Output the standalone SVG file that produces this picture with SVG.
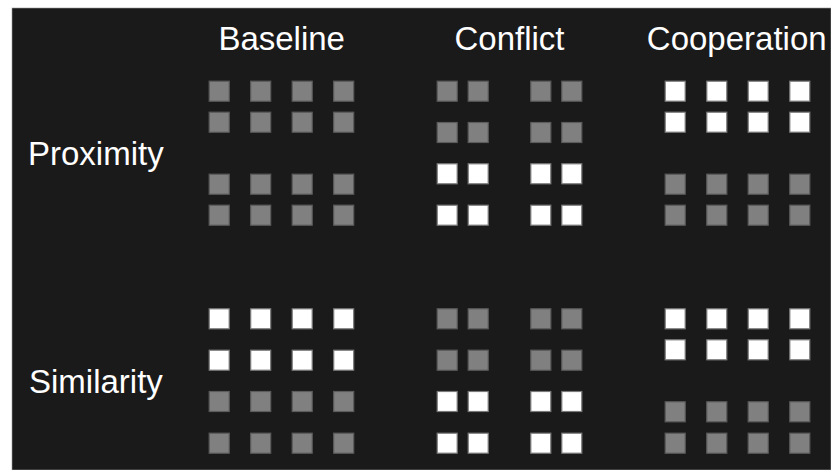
<svg xmlns="http://www.w3.org/2000/svg" width="831" height="470" viewBox="0 0 831 470">
<style>
text{font-family:"Liberation Sans",Arial,sans-serif;font-size:33px;fill:#ffffff}
.t{text-anchor:middle}
.g{fill:#808080;stroke:#5c5c5c;stroke-width:1.2}
.w{fill:#ffffff;stroke:#7a7a7a;stroke-width:1.2}
</style>
<defs>
<rect id="sq" width="20" height="20"/>
</defs>
<rect x="0" y="0" width="831" height="470" fill="#ffffff"/>
<rect x="12" y="8" width="819" height="462" fill="#1a1a1a"/>
<rect x="12" y="8" width="819" height="462" fill="none" stroke="#9a9a9a" stroke-width="0.6"/>
<g id="headers">
<text class="t" x="281.7" y="49.5">Baseline</text>
<text class="t" x="509.5" y="49.5">Conflict</text>
<text class="t" x="736.7" y="49.5">Cooperation</text>
<text x="28" y="164.5">Proximity</text>
<text x="29" y="392.5">Similarity</text>
</g>
<g id="baseline-proximity">
<use href="#sq" class="g" x="209.2" y="81.2"/><use href="#sq" class="g" x="250.7" y="81.2"/><use href="#sq" class="g" x="292.2" y="81.2"/><use href="#sq" class="g" x="333.7" y="81.2"/>
<use href="#sq" class="g" x="209.2" y="112.2"/><use href="#sq" class="g" x="250.7" y="112.2"/><use href="#sq" class="g" x="292.2" y="112.2"/><use href="#sq" class="g" x="333.7" y="112.2"/>
<use href="#sq" class="g" x="209.2" y="174.2"/><use href="#sq" class="g" x="250.7" y="174.2"/><use href="#sq" class="g" x="292.2" y="174.2"/><use href="#sq" class="g" x="333.7" y="174.2"/>
<use href="#sq" class="g" x="209.2" y="205.2"/><use href="#sq" class="g" x="250.7" y="205.2"/><use href="#sq" class="g" x="292.2" y="205.2"/><use href="#sq" class="g" x="333.7" y="205.2"/>
</g>
<g id="conflict-proximity">
<use href="#sq" class="g" x="437.2" y="81.2"/><use href="#sq" class="g" x="468.2" y="81.2"/><use href="#sq" class="g" x="530.8" y="81.2"/><use href="#sq" class="g" x="561.8" y="81.2"/>
<use href="#sq" class="g" x="437.2" y="122.5"/><use href="#sq" class="g" x="468.2" y="122.5"/><use href="#sq" class="g" x="530.8" y="122.5"/><use href="#sq" class="g" x="561.8" y="122.5"/>
<use href="#sq" class="w" x="437.2" y="163.8"/><use href="#sq" class="w" x="468.2" y="163.8"/><use href="#sq" class="w" x="530.8" y="163.8"/><use href="#sq" class="w" x="561.8" y="163.8"/>
<use href="#sq" class="w" x="437.2" y="205.2"/><use href="#sq" class="w" x="468.2" y="205.2"/><use href="#sq" class="w" x="530.8" y="205.2"/><use href="#sq" class="w" x="561.8" y="205.2"/>
</g>
<g id="cooperation-proximity">
<use href="#sq" class="w" x="665.2" y="81.2"/><use href="#sq" class="w" x="706.8" y="81.2"/><use href="#sq" class="w" x="748.2" y="81.2"/><use href="#sq" class="w" x="789.8" y="81.2"/>
<use href="#sq" class="w" x="665.2" y="112.2"/><use href="#sq" class="w" x="706.8" y="112.2"/><use href="#sq" class="w" x="748.2" y="112.2"/><use href="#sq" class="w" x="789.8" y="112.2"/>
<use href="#sq" class="g" x="665.2" y="174.2"/><use href="#sq" class="g" x="706.8" y="174.2"/><use href="#sq" class="g" x="748.2" y="174.2"/><use href="#sq" class="g" x="789.8" y="174.2"/>
<use href="#sq" class="g" x="665.2" y="205.2"/><use href="#sq" class="g" x="706.8" y="205.2"/><use href="#sq" class="g" x="748.2" y="205.2"/><use href="#sq" class="g" x="789.8" y="205.2"/>
</g>
<g id="baseline-similarity">
<use href="#sq" class="w" x="209.2" y="308.8"/><use href="#sq" class="w" x="250.7" y="308.8"/><use href="#sq" class="w" x="292.2" y="308.8"/><use href="#sq" class="w" x="333.7" y="308.8"/>
<use href="#sq" class="w" x="209.2" y="350.2"/><use href="#sq" class="w" x="250.7" y="350.2"/><use href="#sq" class="w" x="292.2" y="350.2"/><use href="#sq" class="w" x="333.7" y="350.2"/>
<use href="#sq" class="g" x="209.2" y="391.5"/><use href="#sq" class="g" x="250.7" y="391.5"/><use href="#sq" class="g" x="292.2" y="391.5"/><use href="#sq" class="g" x="333.7" y="391.5"/>
<use href="#sq" class="g" x="209.2" y="433.2"/><use href="#sq" class="g" x="250.7" y="433.2"/><use href="#sq" class="g" x="292.2" y="433.2"/><use href="#sq" class="g" x="333.7" y="433.2"/>
</g>
<g id="conflict-similarity">
<use href="#sq" class="g" x="437.2" y="308.8"/><use href="#sq" class="g" x="468.2" y="308.8"/><use href="#sq" class="g" x="530.8" y="308.8"/><use href="#sq" class="g" x="561.8" y="308.8"/>
<use href="#sq" class="g" x="437.2" y="350.2"/><use href="#sq" class="g" x="468.2" y="350.2"/><use href="#sq" class="g" x="530.8" y="350.2"/><use href="#sq" class="g" x="561.8" y="350.2"/>
<use href="#sq" class="w" x="437.2" y="391.5"/><use href="#sq" class="w" x="468.2" y="391.5"/><use href="#sq" class="w" x="530.8" y="391.5"/><use href="#sq" class="w" x="561.8" y="391.5"/>
<use href="#sq" class="w" x="437.2" y="433.2"/><use href="#sq" class="w" x="468.2" y="433.2"/><use href="#sq" class="w" x="530.8" y="433.2"/><use href="#sq" class="w" x="561.8" y="433.2"/>
</g>
<g id="cooperation-similarity">
<use href="#sq" class="w" x="665.2" y="308.8"/><use href="#sq" class="w" x="706.8" y="308.8"/><use href="#sq" class="w" x="748.2" y="308.8"/><use href="#sq" class="w" x="789.8" y="308.8"/>
<use href="#sq" class="w" x="665.2" y="339.8"/><use href="#sq" class="w" x="706.8" y="339.8"/><use href="#sq" class="w" x="748.2" y="339.8"/><use href="#sq" class="w" x="789.8" y="339.8"/>
<use href="#sq" class="g" x="665.2" y="401.8"/><use href="#sq" class="g" x="706.8" y="401.8"/><use href="#sq" class="g" x="748.2" y="401.8"/><use href="#sq" class="g" x="789.8" y="401.8"/>
<use href="#sq" class="g" x="665.2" y="433.2"/><use href="#sq" class="g" x="706.8" y="433.2"/><use href="#sq" class="g" x="748.2" y="433.2"/><use href="#sq" class="g" x="789.8" y="433.2"/>
</g>
</svg>
